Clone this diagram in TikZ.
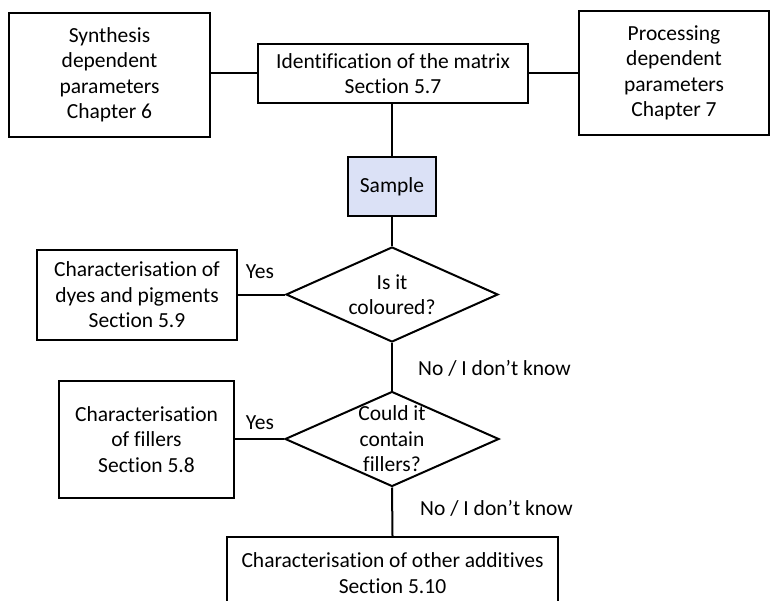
\documentclass[tikz,border=0pt]{standalone}
\usepackage{fontspec}
\setmainfont{Carlito}[Ligatures=NoCommon]
\usetikzlibrary{shapes.geometric}
\definecolor{samplefill}{RGB}{219,225,246}
\begin{document}
\begin{tikzpicture}[x=1pt,y=-1pt,
  every node/.style={font=\fontsize{21.5}{25.5}\selectfont, text=black},
  box/.style={draw, line width=2pt, align=center, inner sep=0pt, anchor=north west},
  decision/.style={draw, diamond, line width=2pt, inner sep=0pt},
  txt/.style={align=center, inner sep=0pt},
  link/.style={line width=2pt}]
\clip (0,0) rectangle (770,601);
\useasboundingbox (0,0) rectangle (770,601);

% boxes
\node[box, minimum width=201pt, minimum height=124pt] (syn) at (8,12)
  {Synthesis\\dependent\\parameters\\Chapter 6};
\node[box, minimum width=270pt, minimum height=59pt] (ident) at (257,43)
  {Identification of the matrix\\Section 5.7};
\node[box, minimum width=190pt, minimum height=124pt] (proc) at (578,10)
  {Processing\\dependent\\parameters\\Chapter 7};
\node[box, fill=samplefill, minimum width=88pt, minimum height=59pt] (sample) at (347,156)
  {Sample};
\node[box, minimum width=200pt, minimum height=90pt] (dyes) at (36,249)
  {Characterisation of\\dyes and pigments\\Section 5.9};
\node[box, minimum width=175pt, minimum height=117pt] (fill) at (58,380)
  {Characterisation\\of fillers\\Section 5.8};
\node[box, minimum width=331pt, minimum height=72pt] (other) at (226,536)
  {Characterisation of other additives\\Section 5.10};

% decisions
\node[decision, minimum width=212pt, minimum height=95pt] (d1) at (392,294.5) {};
\node[txt] at (d1.center) {Is it\\coloured?};
\node[decision, minimum width=214pt, minimum height=95pt] (d2) at (392,439) {};
\node[txt] at (d2.center) {Could it\\contain\\fillers?};

% connectors
\draw[link] (ident.west -| syn.east) -- (ident.west);
\draw[link] (ident.east) -- (ident.east -| proc.west);
\draw[link] (sample.north |- ident.south) -- (sample.north);
\draw[link] (sample.south) -- (d1.north);
\draw[link] (d1.west) -- (d1.west -| dyes.east);
\draw[link] (d1.south) -- (d2.north);
\draw[link] (d2.west) -- (d2.west -| fill.east);
\draw[link] (d2.south) -- (other.north);

% branch labels
\node[txt] (y1) at (260,272) {Yes};
\node[txt] (y2) at (260,423) {Yes};
\node[txt, anchor=west] (n1) at (418,368) {No / I don’t know};
\node[txt, anchor=west] (n2) at (420,508) {No / I don’t know};
\end{tikzpicture}
\end{document}
